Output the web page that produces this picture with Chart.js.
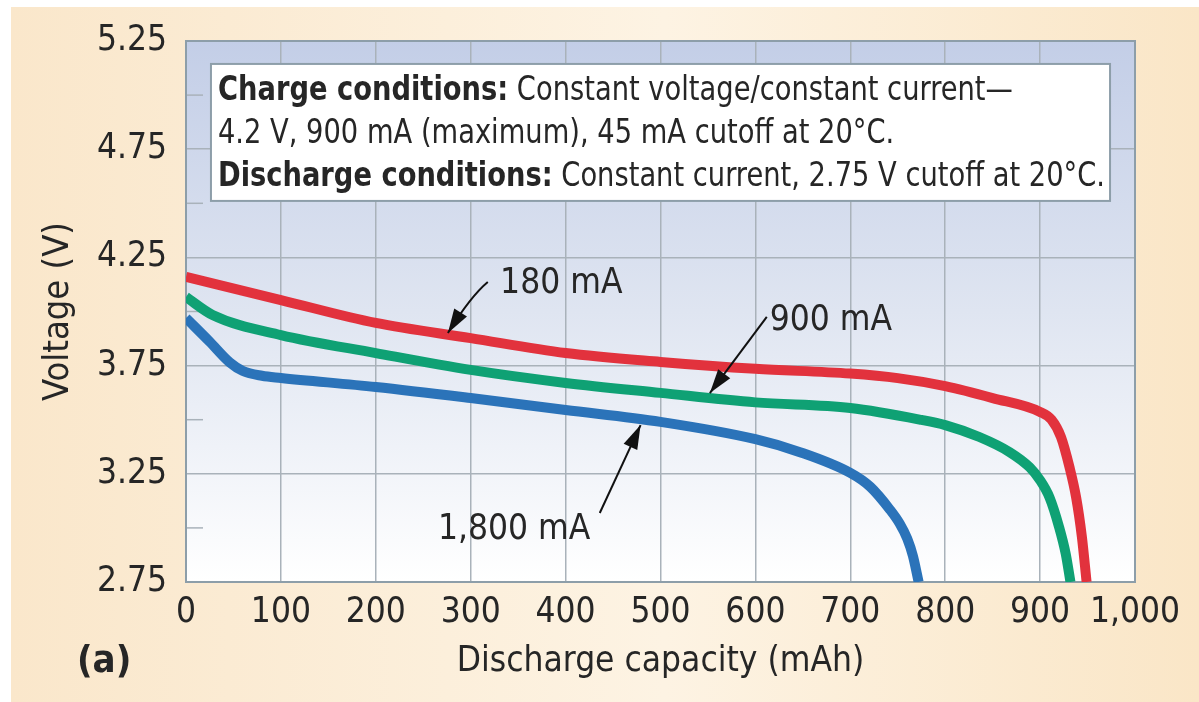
<!DOCTYPE html>
<html>
<head>
<meta charset="utf-8">
<script src="https://cdn.jsdelivr.net/npm/chart.js@4.4.1/dist/chart.umd.min.js"></script>
<style>
  html, body { margin: 0; padding: 0; background: #fff; }
</style>
</head>
<body>
<canvas id="chart" width="1199" height="702"></canvas>
<script>
// discharge curves (mAh, V)
const capacity180 = [0, 100, 200, 300, 400, 500, 600, 700, 750, 800, 850, 900, 912, 922, 931, 938, 944, 949];
const voltage180 = [4.16, 4.053, 3.947, 3.877, 3.808, 3.767, 3.735, 3.713, 3.692, 3.655, 3.60, 3.536, 3.50, 3.42, 3.28, 3.14, 2.96, 2.75];

const capacity900 = [0, 28, 100, 200, 300, 400, 500, 600, 700, 775, 800, 836, 868, 889, 900, 910, 920, 927, 932];
const voltage900 = [4.067, 3.984, 3.891, 3.808, 3.73, 3.67, 3.624, 3.58, 3.554, 3.499, 3.475, 3.42, 3.35, 3.28, 3.22, 3.14, 3.004, 2.88, 2.75];

const capacity1800 = [0, 25, 46, 60, 80, 100, 200, 300, 400, 500, 600, 647, 700, 721, 742, 752, 760, 766, 772];
const voltage1800 = [3.97, 3.86, 3.765, 3.725, 3.703, 3.693, 3.651, 3.60, 3.545, 3.49, 3.41, 3.35, 3.254, 3.19, 3.083, 3.02, 2.95, 2.87, 2.75];

const yMajorTicks = [2.75, 3.25, 3.75, 4.25, 4.75, 5.25];
const yMinorTicks = [3.0, 3.5, 4.0, 4.5, 5.0];
const xTicks = [0, 100, 200, 300, 400, 500, 600, 700, 800, 900, 1000];

const FONT = "'Liberation Sans Narrow', 'DejaVu Sans Condensed', 'Arial Narrow', sans-serif";
const INK = '#262626';
const GRID = '#a9b2ba';

// callouts, placed in data units: label anchor + arrow start/tip
const callouts = [
  { text: '180 mA', at: [331, 4.085], from: [318, 4.136], tip: [276, 3.901], bend: [300, 4.07] },
  { text: '900 mA', at: [615, 3.914], from: [612, 3.975], tip: [552, 3.623] },
  { text: '1,800 mA', at: [265.5, 2.949], from: [436, 3.069], tip: [479, 3.475] }
];

const noteBox = { x0: 26.3, x1: 973.7, y0: 5.144, y1: 4.511 };
const noteLines = [
  [['Charge conditions:', true], [' Constant voltage/constant current\u2014', false]],
  [['4.2 V, 900 mA (maximum), 45 mA cutoff at 20\u00b0C.', false]],
  [['Discharge conditions:', true], [' Constant current, 2.75 V cutoff at 20\u00b0C.', false]]
];

const pairs = (xs, ys) => xs.map((x, i) => ({ x: x, y: ys[i] }));

const backdrop = {
  id: 'backdrop',
  beforeDraw(chart) {
    const { ctx, width, height, chartArea: a } = chart;
    ctx.save();
    ctx.fillStyle = '#fff';
    ctx.fillRect(0, 0, width, height);
    const g = ctx.createLinearGradient(11, 0, width, 0);
    g.addColorStop(0, '#fae7cb');
    g.addColorStop(0.55, '#fdf3e3');
    g.addColorStop(1, '#fae6c7');
    ctx.fillStyle = g;
    ctx.fillRect(11, 7, width - 11, height - 7);
    const p = ctx.createLinearGradient(0, a.top, 0, a.bottom);
    p.addColorStop(0, '#c3cee7');
    p.addColorStop(0.5, '#dfe5f1');
    p.addColorStop(1, '#ffffff');
    ctx.fillStyle = p;
    ctx.fillRect(a.left, a.top, a.right - a.left, a.bottom - a.top);
    ctx.restore();
  },
  beforeDatasetsDraw(chart) {
    const { ctx, chartArea: a, scales } = chart;
    ctx.save();
    ctx.strokeStyle = GRID;
    ctx.lineWidth = 1.5;
    yMinorTicks.forEach(v => {
      const y = scales.y.getPixelForValue(v);
      ctx.beginPath();
      ctx.moveTo(a.left, y);
      ctx.lineTo(a.left + 17, y);
      ctx.stroke();
    });
    ctx.strokeStyle = '#8d9ea9';
    ctx.lineWidth = 2;
    ctx.strokeRect(a.left, a.top, a.right - a.left, a.bottom - a.top);
    ctx.restore();
  }
};

function arrowHead(ctx, fx, fy, tx, ty) {
  const ang = Math.atan2(ty - fy, tx - fx);
  const len = 24, half = 7.5;
  ctx.beginPath();
  ctx.moveTo(tx, ty);
  ctx.lineTo(tx - len * Math.cos(ang) + half * Math.sin(ang), ty - len * Math.sin(ang) - half * Math.cos(ang));
  ctx.lineTo(tx - len * Math.cos(ang) - half * Math.sin(ang), ty - len * Math.sin(ang) + half * Math.cos(ang));
  ctx.closePath();
  ctx.fill();
}

const notes = {
  id: 'notes',
  afterDatasetsDraw(chart) {
    const { ctx, scales } = chart;
    const X = v => scales.x.getPixelForValue(v);
    const Y = v => scales.y.getPixelForValue(v);
    ctx.save();

    // conditions box
    const bx = X(noteBox.x0), by = Y(noteBox.y0);
    const bw = X(noteBox.x1) - bx, bh = Y(noteBox.y1) - by;
    ctx.fillStyle = '#ffffff';
    ctx.fillRect(bx, by, bw, bh);
    ctx.strokeStyle = '#8d9ea9';
    ctx.lineWidth = 2;
    ctx.strokeRect(bx, by, bw, bh);

    const fs = 33;
    const fontOf = bold => (bold ? 'bold ' : '') + fs + 'px ' + FONT;
    const widthOf = line => line.reduce((s, [t, b]) => { ctx.font = fontOf(b); return s + ctx.measureText(t).width; }, 0);
    const sx = (bw - 12) / widthOf(noteLines[2]);
    ctx.fillStyle = INK;
    ctx.textBaseline = 'alphabetic';
    noteLines.forEach((line, i) => {
      ctx.save();
      ctx.translate(bx + 7, by + 36 + i * 43);
      ctx.scale(sx, 1);
      let cx = 0;
      line.forEach(([t, b]) => {
        ctx.font = fontOf(b);
        ctx.fillText(t, cx, 0);
        cx += ctx.measureText(t).width;
      });
      ctx.restore();
    });

    // curve callouts
    ctx.font = '35px ' + FONT;
    ctx.strokeStyle = '#111';
    ctx.lineWidth = 2;
    callouts.forEach(c => {
      const fx = X(c.from[0]), fy = Y(c.from[1]);
      const tx = X(c.tip[0]), ty = Y(c.tip[1]);
      ctx.beginPath();
      ctx.moveTo(fx, fy);
      let hx = fx, hy = fy;
      if (c.bend) {
        hx = X(c.bend[0]); hy = Y(c.bend[1]);
        ctx.quadraticCurveTo(hx, hy, tx, ty);
      } else {
        ctx.lineTo(tx, ty);
      }
      ctx.stroke();
      ctx.fillStyle = '#111';
      arrowHead(ctx, hx, hy, tx, ty);
      ctx.fillStyle = INK;
      ctx.fillText(c.text, X(c.at[0]), Y(c.at[1]));
    });

    // panel letter
    ctx.font = 'bold 38px ' + FONT;
    ctx.fillStyle = INK;
    ctx.fillText('(a)', 77, 672);
    ctx.restore();
  }
};

const line = (data, color) => ({
  data: data,
  borderColor: color,
  borderWidth: 10,
  pointRadius: 0,
  cubicInterpolationMode: 'monotone',
  borderCapStyle: 'butt',
  borderJoinStyle: 'round',
  fill: false
});

new Chart(document.getElementById('chart'), {
  type: 'line',
  data: {
    datasets: [
      line(pairs(capacity1800, voltage1800), '#2b73b9'),
      line(pairs(capacity900, voltage900), '#0fa174'),
      line(pairs(capacity180, voltage180), '#e2323d')
    ]
  },
  options: {
    responsive: false,
    animation: false,
    layout: { padding: { top: 41, right: 64, left: 0, bottom: 0 } },
    plugins: { legend: { display: false }, tooltip: { enabled: false } },
    scales: {
      x: {
        type: 'linear',
        min: 0,
        max: 1000,
        afterBuildTicks: s => { s.ticks = xTicks.map(v => ({ value: v })); },
        afterFit: s => { s.height = 120; },
        ticks: {
          padding: 10,
          color: INK,
          font: { family: FONT, size: 35 },
          maxRotation: 0,
          autoSkip: false,
          callback: v => v.toLocaleString('en-US')
        },
        grid: { color: GRID, lineWidth: 1.5, drawTicks: false },
        border: { display: false },
        title: {
          display: true,
          text: 'Discharge capacity (mAh)',
          color: INK,
          font: { family: FONT, size: 35 },
          padding: { top: 0, bottom: 19 }
        }
      },
      y: {
        type: 'linear',
        min: 2.75,
        max: 5.25,
        afterBuildTicks: s => { s.ticks = yMajorTicks.map(v => ({ value: v })); },
        afterFit: s => { s.width = 186; },
        ticks: {
          padding: 19,
          color: INK,
          font: { family: FONT, size: 35 },
          callback: v => v.toFixed(2)
        },
        grid: { color: GRID, lineWidth: 1.5, drawTicks: false },
        border: { display: false },
        title: {
          display: true,
          text: 'Voltage (V)',
          color: INK,
          font: { family: FONT, size: 36 },
          padding: { top: 37, bottom: 0 }
        }
      }
    }
  },
  plugins: [backdrop, notes]
});
</script>
</body>
</html>
